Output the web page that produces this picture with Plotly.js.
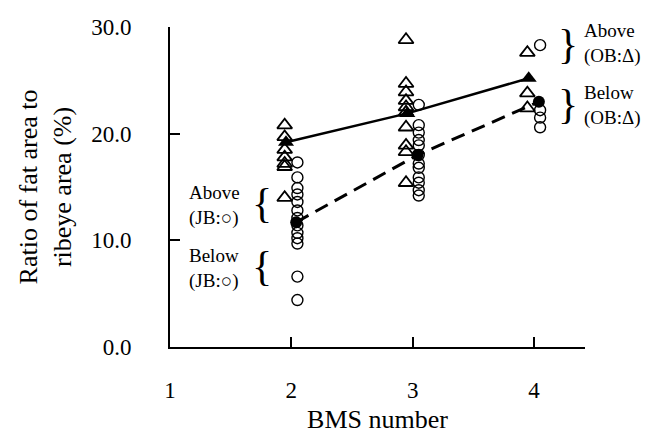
<!DOCTYPE html>
<html>
<head>
<meta charset="utf-8">
<script src="https://cdn.plot.ly/plotly-3.0.1.min.js"></script>
<style>html,body{margin:0;padding:0;background:#fff;}#chart{width:662px;height:441px;}</style>
</head>
<body>
<div id="chart"></div>
<script>
// BMS categories
const bms = [2, 3, 4];
// OB (triangles) individual values per BMS number
const ob2 = [20.8, 19.7, 18.5, 17.8, 17.2, 16.9, 14.0];
const ob3 = [28.8, 24.7, 23.9, 23.1, 22.5, 22.0, 20.6, 18.9, 18.3, 15.4];
const ob4 = [27.6, 23.8, 22.4];
// JB (circles) individual values per BMS number
const jb2 = [17.3, 15.9, 14.9, 14.3, 13.6, 12.8, 12.1, 11.4, 10.7, 10.2, 9.7, 6.6, 4.4];
const jb3 = [22.7, 20.8, 20.1, 19.4, 18.9, 18.0, 17.2, 16.8, 15.9, 15.4, 14.7, 14.2];
const jb4 = [28.3, 22.2, 21.5, 20.6];
// group means
const obMean = [19.2, 21.9, 25.2];
const jbMean = [11.7, 18.0, 23.0];
// tick labels
const yTicks = [0, 10, 20, 30];
const yTickText = ['0.0', '10.0', '20.0', '30.0'];
const xTicks = [1, 2, 3, 4];

const obOff = -0.055, jbOff = 0.05;
function spread(groups, off) {
  const xs = [], ys = [];
  groups.forEach((g, i) => g.forEach(v => { xs.push(bms[i] + off); ys.push(v); }));
  return {x: xs, y: ys};
}
const obPts = spread([ob2, ob3, ob4], obOff);
const jbPts = spread([jb2, jb3, jb4], jbOff);

const traces = [
  {x: jbPts.x, y: jbPts.y, mode: 'markers', type: 'scatter',
   marker: {symbol: 'circle-open', size: 11, color: '#000', line: {width: 1.4, color: '#000'}}},
  {x: obPts.x, y: obPts.y, mode: 'markers', type: 'scatter',
   marker: {symbol: 'triangle-up-open', size: 13, color: '#000', line: {width: 1.8, color: '#000'}}},
  {x: bms.map(b => b + jbOff * 0.8), y: jbMean, mode: 'lines+markers', type: 'scatter',
   line: {color: '#000', width: 3, dash: '14px,8px'},
   marker: {symbol: 'circle', size: 12, color: '#000'}},
  {x: bms.map(b => b + obOff * 0.8), y: obMean, mode: 'lines+markers', type: 'scatter',
   line: {color: '#000', width: 2.5},
   marker: {symbol: 'triangle-up', size: 14, color: '#000'}}
];

const L = 170, T = 27, W = 415, H = 320;
function px(x) { return (x - L) / W; }
function py(y) { return (T + H - y) / H; }
const FAM = 'Liberation Serif, Times New Roman, serif';
const txtFont = {family: FAM, size: 19, color: '#000'};
const braceFont = {family: FAM, size: 42, color: '#000'};
function ann(text, x, y, xanchor, font, align) {
  return {text: text, xref: 'paper', yref: 'paper', x: px(x), y: py(y), xanchor: xanchor, yanchor: 'middle',
          showarrow: false, font: font, align: align || 'left'};
}
const annotations = [
  ann('Above<br>(JB:○)', 187, 205, 'left', txtFont, 'left'),
  ann('{', 262, 203, 'center', braceFont),
  ann('Below<br>(JB:○)', 187, 268, 'left', txtFont, 'left'),
  ann('{', 262, 266, 'center', braceFont),
  ann('}', 568, 44, 'center', braceFont),
  ann('Above<br>(OB:Δ)', 582, 44, 'left', txtFont, 'left'),
  ann('}', 568, 104, 'center', braceFont),
  ann('Below<br>(OB:Δ)', 582, 105, 'left', txtFont, 'left')
];

const layout = {
  width: 662, height: 441,
  margin: {l: L, r: 662 - L - W, t: T, b: 441 - T - H},
  paper_bgcolor: '#fff', plot_bgcolor: '#fff',
  showlegend: false,
  font: {family: FAM, color: '#000'},
  xaxis: {
    range: [1, 4.42], tickvals: xTicks, ticktext: xTicks.map(String),
    showgrid: false, zeroline: false, showline: true, linecolor: '#000', linewidth: 2,
    ticks: 'inside', ticklen: 10, tickwidth: 2, tickcolor: '#000',
    ticklabelstandoff: 21,
    tickfont: {size: 23, family: FAM},
    title: {text: 'BMS number', font: {size: 26, family: FAM}, standoff: 8},
    fixedrange: true
  },
  yaxis: {
    range: [0, 30], tickvals: yTicks, ticktext: yTickText,
    showgrid: false, zeroline: false, showline: true, linecolor: '#000', linewidth: 2,
    ticks: 'inside', ticklen: 10, tickwidth: 2, tickcolor: '#000',
    ticklabelstandoff: 32,
    tickfont: {size: 23, family: FAM},
    title: {text: 'Ratio of fat area to<br>ribeye area (%)', font: {size: 26, family: FAM}, standoff: 12},
    fixedrange: true
  },
  annotations: annotations
};

Plotly.newPlot('chart', traces, layout, {staticPlot: true, displayModeBar: false});
</script>
</body>
</html>
